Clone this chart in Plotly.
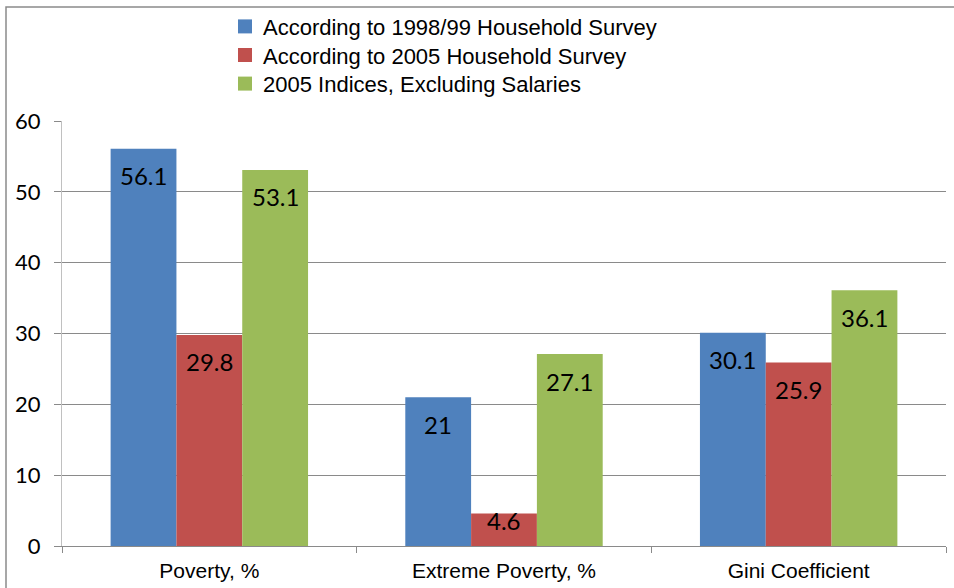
import plotly.graph_objects as go

categories = ["Poverty, %", "Extreme Poverty, %", "Gini Coefficient"]
series_names = [
    "According to 1998/99 Household Survey",
    "According to 2005 Household Survey",
    "2005 Indices, Excluding Salaries",
]
survey_1998 = [56.1, 21, 30.1]
survey_2005 = [29.8, 4.6, 25.9]
indices_2005 = [53.1, 27.1, 36.1]
y_ticks = [0, 10, 20, 30, 40, 50, 60]

colors = ["#4F81BD", "#C0504D", "#9BBB59"]
series_values = [survey_1998, survey_2005, indices_2005]

W, H = 954, 588
M_L, M_R, M_T, M_B = 62, 8, 121, 42
BARGAP = 0.33
plot_w = W - M_L - M_R
plot_h = H - M_T - M_B

px_to_xpaper = lambda px: (px - M_L) / plot_w
py_to_ypaper = lambda py: (H - M_B - py) / plot_h

fig = go.Figure()
for name, vals, col in zip(series_names, series_values, colors):
    fig.add_trace(go.Bar(
        x=categories, y=vals, name=name,
        marker=dict(color=col, line=dict(width=0)),
    ))

# value labels sit just inside the top of each bar
bar_w = (1 - BARGAP) / len(series_values)
annotations = []
for j, vals in enumerate(series_values):
    for i, v in enumerate(vals):
        px_h = v / 60 * plot_h
        shift = -27 if px_h > 60 else -px_h * 0.22
        annotations.append(dict(
            x=i + (j - 1) * bar_w, y=v, xref="x", yref="y",
            text=f"{v:g}", showarrow=False, yanchor="middle", yshift=shift,
            font=dict(family="Lato", size=24, color="#000000"),
        ))

# outer chart border (left and top edges visible)
shapes = [dict(
    type="rect", xref="paper", yref="paper",
    x0=px_to_xpaper(6), x1=px_to_xpaper(W + 20),
    y0=py_to_ypaper(H + 20), y1=py_to_ypaper(7),
    line=dict(color="#8a8a8a", width=1.5), fillcolor="rgba(0,0,0,0)", layer="below",
)]

# compact legend: one multi-line label block with a colour square per line
LEG_FONT = 22
LEG_X, LEG_MID, SQ = 238, 55, 14
LEG_STEP = LEG_FONT * 1.3
for k, col in enumerate(colors):
    cy = LEG_MID + (k - 1) * LEG_STEP
    shapes.append(dict(
        type="rect", xref="paper", yref="paper",
        x0=px_to_xpaper(LEG_X), x1=px_to_xpaper(LEG_X + SQ),
        y0=py_to_ypaper(cy + SQ / 2), y1=py_to_ypaper(cy - SQ / 2),
        line=dict(width=0), fillcolor=col,
    ))
annotations.append(dict(
    x=px_to_xpaper(LEG_X + SQ + 9), y=py_to_ypaper(LEG_MID + 1.5),
    xref="paper", yref="paper", xanchor="left", yanchor="middle", align="left",
    text="<br>".join(series_names), showarrow=False,
    font=dict(family="Liberation Sans, Arial", size=LEG_FONT, color="#000000"),
))

fig.update_layout(
    width=W, height=H,
    margin=dict(l=M_L, r=M_R, t=M_T, b=M_B, autoexpand=False),
    paper_bgcolor="white", plot_bgcolor="white",
    barmode="group", bargap=BARGAP, bargroupgap=0,
    showlegend=False,
    xaxis=dict(
        type="category", tickson="boundaries", ticks="outside", ticklen=6,
        tickcolor="#8a8a8a", showgrid=False, showline=True, linecolor="#8a8a8a",
        linewidth=1, tickfont=dict(family="Liberation Sans, Arial", size=21, color="#000000"),
        ticklabelstandoff=6, automargin=False,
    ),
    yaxis=dict(
        range=[0, 60], tickvals=y_ticks, ticks="outside", ticklen=7,
        tickcolor="#8a8a8a", showgrid=True, gridcolor="#8a8a8a", gridwidth=1,
        showline=True, linecolor="#c0c0c0", linewidth=1, zeroline=False,
        tickfont=dict(family="Lato", size=22, color="#000000"),
        ticklabelstandoff=9, automargin=False,
    ),
    annotations=annotations, shapes=shapes,
)

fig.write_html("out.html")
